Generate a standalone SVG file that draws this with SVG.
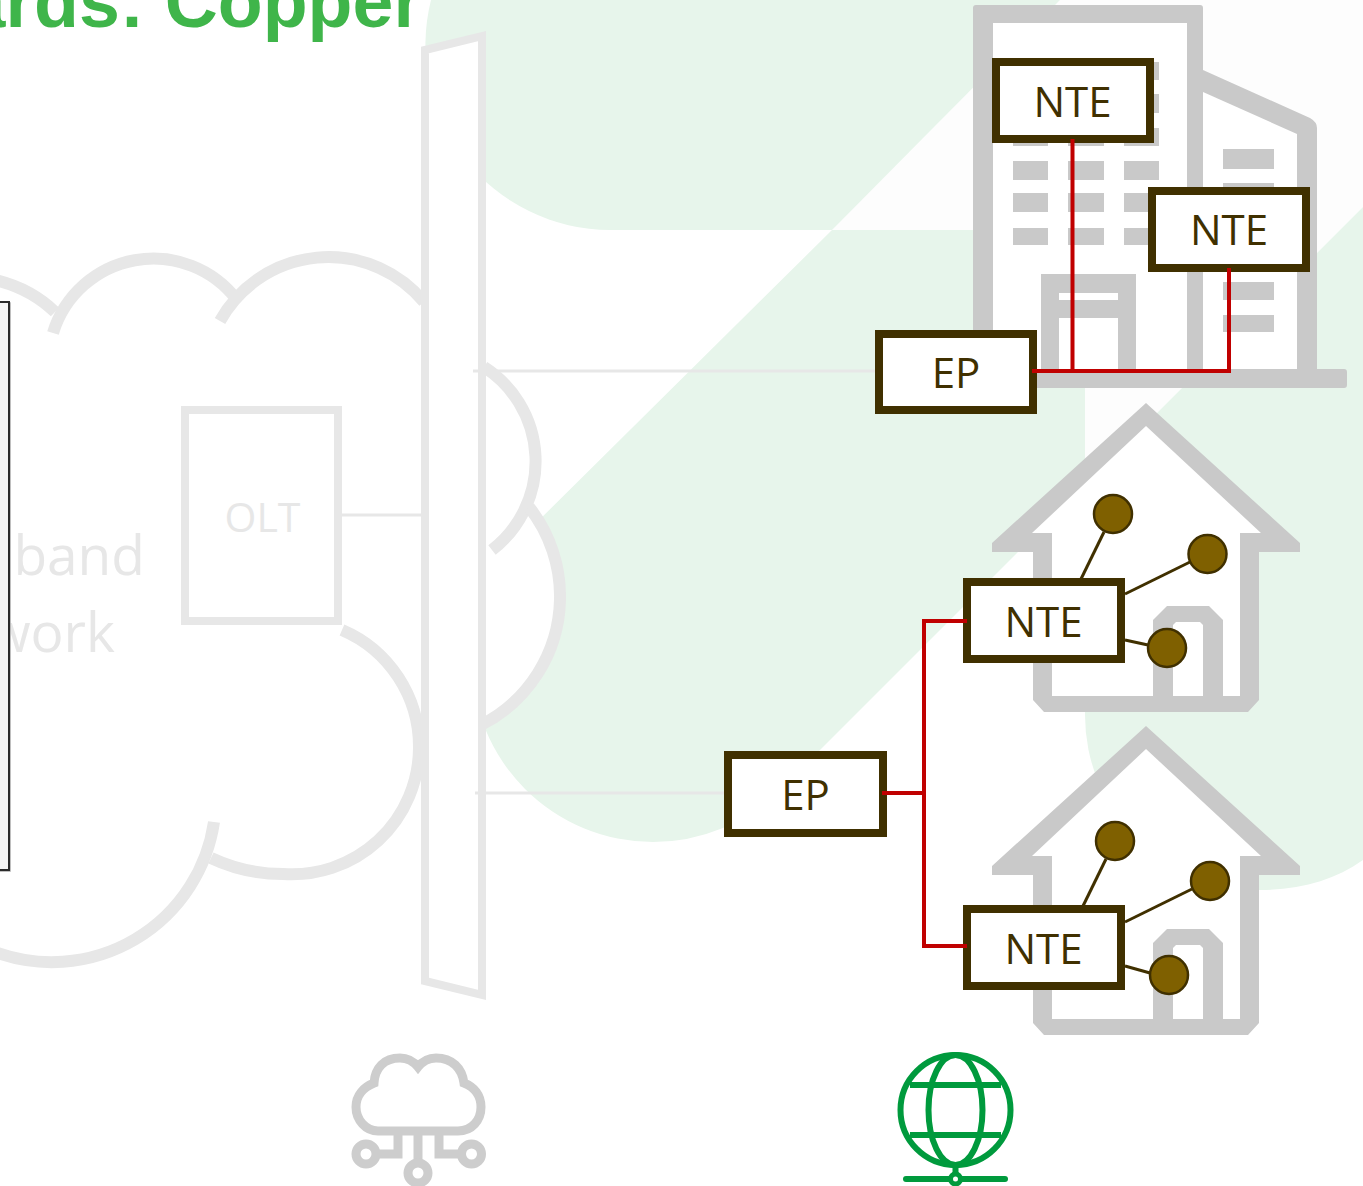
<svg xmlns="http://www.w3.org/2000/svg" width="1363" height="1186" viewBox="0 0 1363 1186">
<style>
.bgg{fill:#e7f5eb}
.nw{fill:#fdfdfd}
.cl{fill:none;stroke:#e7e7e7;stroke-width:12}
.ghost{fill:#e7e7e7;font-family:"Open Sans","Noto Sans",sans-serif}
.gry{fill:#c9c9c9}
.wht{fill:#fff}
.box{fill:#fff;stroke:#403000;stroke-width:8}
.lbl{fill:#403000;font-family:"Open Sans","Noto Sans",sans-serif;font-size:42px;text-anchor:middle}
.red{fill:none;stroke:#c00000;stroke-width:4}
.lnk{fill:none;stroke:#403000;stroke-width:3}
.lgt{fill:none;stroke:#e7e7e7;stroke-width:3}
.dot{fill:#7f6000;stroke:#403000;stroke-width:2.5}
.ico{fill:none;stroke:#cdcdcd;stroke-width:9}
.glb{fill:none;stroke:#009a3d;stroke-width:6}
</style>
<defs>
<g id="house">
<path class="gry" d="M1146,403L1300,543V552H1259V700L1248,712H1044L1033,700V552H992V543Z"/>
<path class="wht" d="M1146,426L1261,533H1240V696H1052V533H1032Z"/>
<path class="gry" d="M1153,696V620L1167,606H1209L1223,620V696Z"/>
<path class="wht" d="M1173,696V625L1176,622H1200L1203,625V696Z"/>
</g>
</defs>
<rect width="1363" height="1186" fill="#fff"/>
<g id="background">
<path class="nw" d="M1060,0L832,230H1085V0Z"/>
<path class="nw" d="M1085,0H1363V207L1085,485Z"/>
<path class="bgg" d="M431,0H1060L832,230H610A185,185 0 0 1 431,0Z"/>
<path class="bgg" d="M832,230H1085V485L781,789A181,181 0 0 1 653,842A181,181 0 0 1 472,661A181,181 0 0 1 526,533Z"/>
<path class="bgg" d="M1363,207L1085,485V715A175,175 0 0 0 1260,890C1300,890 1335,880 1363,860Z"/>
</g>
<text id="title" x="422" y="27" font-family="'Liberation Sans',Arial,sans-serif" font-weight="700" font-size="73.500" fill="#3fb54a" text-anchor="end">ards: Copper</text>
<g id="cloud">
<path fill="#fff" d="M470,500L529,507A144,144 0 0 1 560,600A144,144 0 0 1 481,725L470,725Z"/>
<path class="cl" d="M-5,280Q30,288 55,312"/>
<path class="cl" d="M53,333A105,105 0 0 1 237,300"/>
<path class="cl" d="M220,321A124,124 0 0 1 424,302"/>
<path class="cl" d="M484,367A112,112 0 0 1 492,550"/>
<path class="cl" d="M529,507A144,144 0 0 1 560,600A144,144 0 0 1 481,725"/>
<path class="cl" d="M342,630A127,127 0 0 1 419,748A127,127 0 0 1 283,874Q245,874 211,858"/>
<path class="cl" d="M214,822A164,164 0 0 1 -5,952"/>
<text class="ghost" x="145" y="575" font-size="55" text-anchor="end">band</text>
<text class="ghost" x="115" y="652" font-size="55" text-anchor="end">work</text>
</g>
<g id="panel"><rect x="-5" y="303" width="15" height="568" fill="none" stroke="#aaa" stroke-width="1.500"/><rect x="-6" y="302" width="15" height="568" fill="#f5f5f5" stroke="#2b2b2b" stroke-width="2"/></g>
<g id="olt"><rect x="185" y="410" width="153" height="211" fill="#fff" stroke="#e7e7e7" stroke-width="8"/><text class="ghost" x="262.500" y="532" font-size="41" text-anchor="middle">OLT</text></g>
<g id="splitter"><path d="M425,50L482,36V995L425,981Z" fill="#fff" stroke="#e7e7e7" stroke-width="8"/></g>
<g id="building">
<path class="gry" d="M973,388V8Q973,5 976,5H1200Q1203,5 1203,8V70L1310,118Q1317,122 1317,128V369H1344Q1347,369 1347,372V385Q1347,388 1344,388Z"/>
<path class="wht" d="M993,369V23H1187V369Z"/>
<path class="wht" d="M1203,92L1297,134V369H1203Z"/>
<g class="gry">
<rect x="1013" y="62" width="35" height="18"/><rect x="1068" y="62" width="36" height="18"/><rect x="1124" y="62" width="35" height="18"/>
<rect x="1013" y="94" width="35" height="19"/><rect x="1068" y="94" width="36" height="19"/><rect x="1124" y="94" width="35" height="19"/>
<rect x="1013" y="128" width="35" height="18"/><rect x="1068" y="128" width="36" height="18"/><rect x="1124" y="128" width="35" height="18"/>
<rect x="1013" y="161" width="35" height="19"/><rect x="1068" y="161" width="36" height="19"/><rect x="1124" y="161" width="35" height="19"/>
<rect x="1013" y="193" width="35" height="19"/><rect x="1068" y="193" width="36" height="19"/><rect x="1124" y="193" width="35" height="19"/>
<rect x="1013" y="228" width="35" height="17"/><rect x="1068" y="228" width="36" height="17"/><rect x="1124" y="228" width="35" height="17"/>
<rect x="1223" y="149" width="51" height="20"/><rect x="1223" y="183" width="51" height="19"/><rect x="1223" y="282" width="51" height="18"/><rect x="1223" y="315" width="51" height="17"/>
</g>
<rect class="gry" x="1041" y="274" width="95" height="95"/>
<rect class="wht" x="1059" y="293" width="59" height="7"/>
<rect class="wht" x="1059" y="318" width="59" height="51"/>
</g>
<g id="house-1"><use href="#house"/></g>
<g id="house-2"><use href="#house" y="323"/></g>
<g id="nte-1"><rect class="box" x="996" y="62" width="154" height="77"/><text class="lbl" x="1072.500" y="117">NTE</text></g>
<g id="nte-2"><rect class="box" x="1152" y="191" width="154" height="77"/><text class="lbl" x="1229" y="245">NTE</text></g>
<g id="ep-1"><rect class="box" x="879" y="334" width="154" height="76"/><text class="lbl" x="956" y="388">EP</text></g>
<g id="ep-2"><rect class="box" x="728" y="755" width="155" height="78"/><text class="lbl" x="805.500" y="810">EP</text></g>
<g id="nte-3"><rect class="box" x="967" y="582" width="154" height="77"/><text class="lbl" x="1043.500" y="637">NTE</text></g>
<g id="nte-4"><rect class="box" x="967" y="909" width="154" height="77"/><text class="lbl" x="1043.500" y="964">NTE</text></g>
<g id="connectors">
<path class="lgt" d="M342,515H421"/>
<path class="lgt" d="M473,371H875"/>
<path class="lgt" d="M475,793H724"/>
<path class="red" d="M1032,371H1229V268"/>
<path class="red" d="M1072.500,371V139"/>
<path class="red" d="M882,793H924"/>
<path class="red" d="M967,621H924V946H967"/>
<path class="lnk" d="M1081,579L1104,532"/>
<path class="lnk" d="M1125,594L1190,562"/>
<path class="lnk" d="M1125,640L1148,645"/>
<path class="lnk" d="M1083,906L1106,859"/>
<path class="lnk" d="M1125,922L1192,889"/>
<path class="lnk" d="M1125,966L1150,973"/>
</g>
<g id="device-1a"><circle class="dot" cx="1113" cy="514" r="19"/></g>
<g id="device-1b"><circle class="dot" cx="1207.500" cy="554" r="19"/></g>
<g id="device-1c"><circle class="dot" cx="1167" cy="648" r="19"/></g>
<g id="device-2a"><circle class="dot" cx="1115" cy="841" r="19"/></g>
<g id="device-2b"><circle class="dot" cx="1210" cy="881" r="19"/></g>
<g id="device-2c"><circle class="dot" cx="1169" cy="975" r="19"/></g>
<g id="cloud-icon">
<path class="ico" d="M378,1131H458C472,1131 481,1120 481,1107C481,1095 474,1087 464,1083C462,1068 452,1058 436,1058C428,1058 422,1062 418,1067C414,1062 408,1058 400,1058C384,1058 375,1068 374,1083C364,1087 356,1095 356,1107C356,1120 366,1131 378,1131Z"/>
<path class="ico" d="M398,1134V1154H377M418,1134V1163M439,1134V1154H460"/>
<circle class="ico" cx="366" cy="1154" r="10"/>
<circle class="ico" cx="418" cy="1173" r="10"/>
<circle class="ico" cx="471.500" cy="1154" r="10"/>
</g>
<g id="globe-icon">
<circle class="glb" cx="955.500" cy="1110" r="55"/>
<ellipse class="glb" cx="955.500" cy="1110" rx="27" ry="55"/>
<path class="glb" d="M910,1085H1001M910,1135H1001M955.500,1165V1174"/>
<path class="glb" stroke-linecap="round" d="M906,1179H1005"/>
<circle cx="955.500" cy="1179" r="5" fill="#fff" stroke="#009a3d" stroke-width="5"/>
</g>
</svg>
